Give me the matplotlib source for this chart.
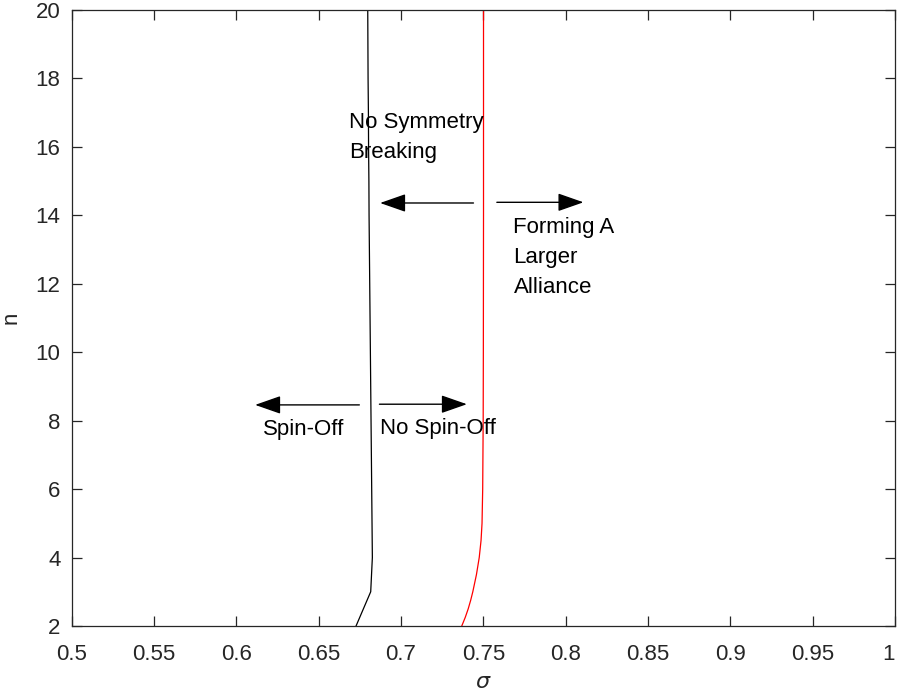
"""Spin-off / alliance threshold curves in (sigma, n) space."""

import matplotlib.pyplot as plt

plt.rcParams["font.family"] = ["Liberation Sans", "DejaVu Sans"]

# threshold for symmetry breaking (black)
n_black = [2, 3, 4, 5, 6, 7, 8, 9, 10, 11, 12, 13, 14, 15, 16, 17, 18, 19, 20]
sigma_black = [0.6727, 0.6816, 0.6826, 0.6824, 0.6822, 0.6820, 0.6818, 0.6816,
               0.6814, 0.6812, 0.6810, 0.6808, 0.6806, 0.6805, 0.6803, 0.6802,
               0.6800, 0.6799, 0.6798]

# threshold for forming a larger alliance (red)
n_red = [2, 2.25, 2.5, 2.75, 3, 3.5, 4, 4.5, 5, 6, 8, 10, 14, 20]
sigma_red = [0.7369, 0.7390, 0.7408, 0.7423, 0.7436, 0.7458, 0.7475, 0.7486,
             0.7492, 0.7496, 0.7499, 0.7500, 0.7501, 0.7501]

x_ticks = [0.5, 0.55, 0.6, 0.65, 0.7, 0.75, 0.8, 0.85, 0.9, 0.95, 1]
x_tick_labels = ["0.5", "0.55", "0.6", "0.65", "0.7", "0.75", "0.8", "0.85", "0.9", "0.95", "1"]
y_ticks = [2, 4, 6, 8, 10, 12, 14, 16, 18, 20]

AXIS_COLOR = "#262626"


def draw_arrow(ax, start, end):
    ax.annotate(
        "",
        xy=end,
        xytext=start,
        arrowprops=dict(
            arrowstyle="-|>,head_length=0.8,head_width=0.28",
            mutation_scale=20,
            color="black",
            lw=1.0,
            shrinkA=0,
            shrinkB=0,
        ),
    )


def main() -> None:
    fig = plt.figure(figsize=(8.98, 6.98), dpi=100)
    ax = fig.add_axes([0.0798, 0.1032, 0.9169, 0.8825])

    ax.plot(sigma_black, n_black, color="black", lw=0.9)
    ax.plot(sigma_red, n_red, color="red", lw=0.9)

    ax.set_xlim(0.5, 1)
    ax.set_ylim(2, 20)
    ax.set_xticks(x_ticks)
    ax.set_xticklabels(x_tick_labels)
    ax.set_yticks(y_ticks)

    for spine in ax.spines.values():
        spine.set_color(AXIS_COLOR)
        spine.set_linewidth(0.9)
    ax.tick_params(axis="both", direction="in", length=7, width=0.9,
                   colors=AXIS_COLOR, labelsize=16, top=True, right=True)
    ax.tick_params(axis="x", pad=13)
    ax.tick_params(axis="y", pad=8)
    # keep the last x label inside the figure
    ax.get_xticklabels()[-1].set_horizontalalignment("right")

    ax.set_xlabel(r"$\sigma$", fontsize=16, color=AXIS_COLOR, labelpad=5)
    ax.set_ylabel("n", fontsize=16, color=AXIS_COLOR, labelpad=10)

    # region annotations
    draw_arrow(ax, (0.744, 14.36), (0.6873, 14.36))
    draw_arrow(ax, (0.7582, 14.38), (0.8108, 14.38))
    draw_arrow(ax, (0.6747, 8.46), (0.6114, 8.46))
    draw_arrow(ax, (0.6869, 8.48), (0.7400, 8.48))

    text_kw = dict(fontsize=16, color="black", ha="left", va="center", linespacing=1.55)
    ax.text(0.6687, 16.28, "No Symmetry\nBreaking", **text_kw)
    ax.text(0.7683, 12.76, "Forming A\nLarger\nAlliance", **text_kw)
    ax.text(0.616, 7.74, "Spin-Off", **text_kw)
    ax.text(0.6873, 7.76, "No Spin-Off", **text_kw)

    fig.savefig("out.png", dpi=100)
    plt.close(fig)


if __name__ == "__main__":
    main()
